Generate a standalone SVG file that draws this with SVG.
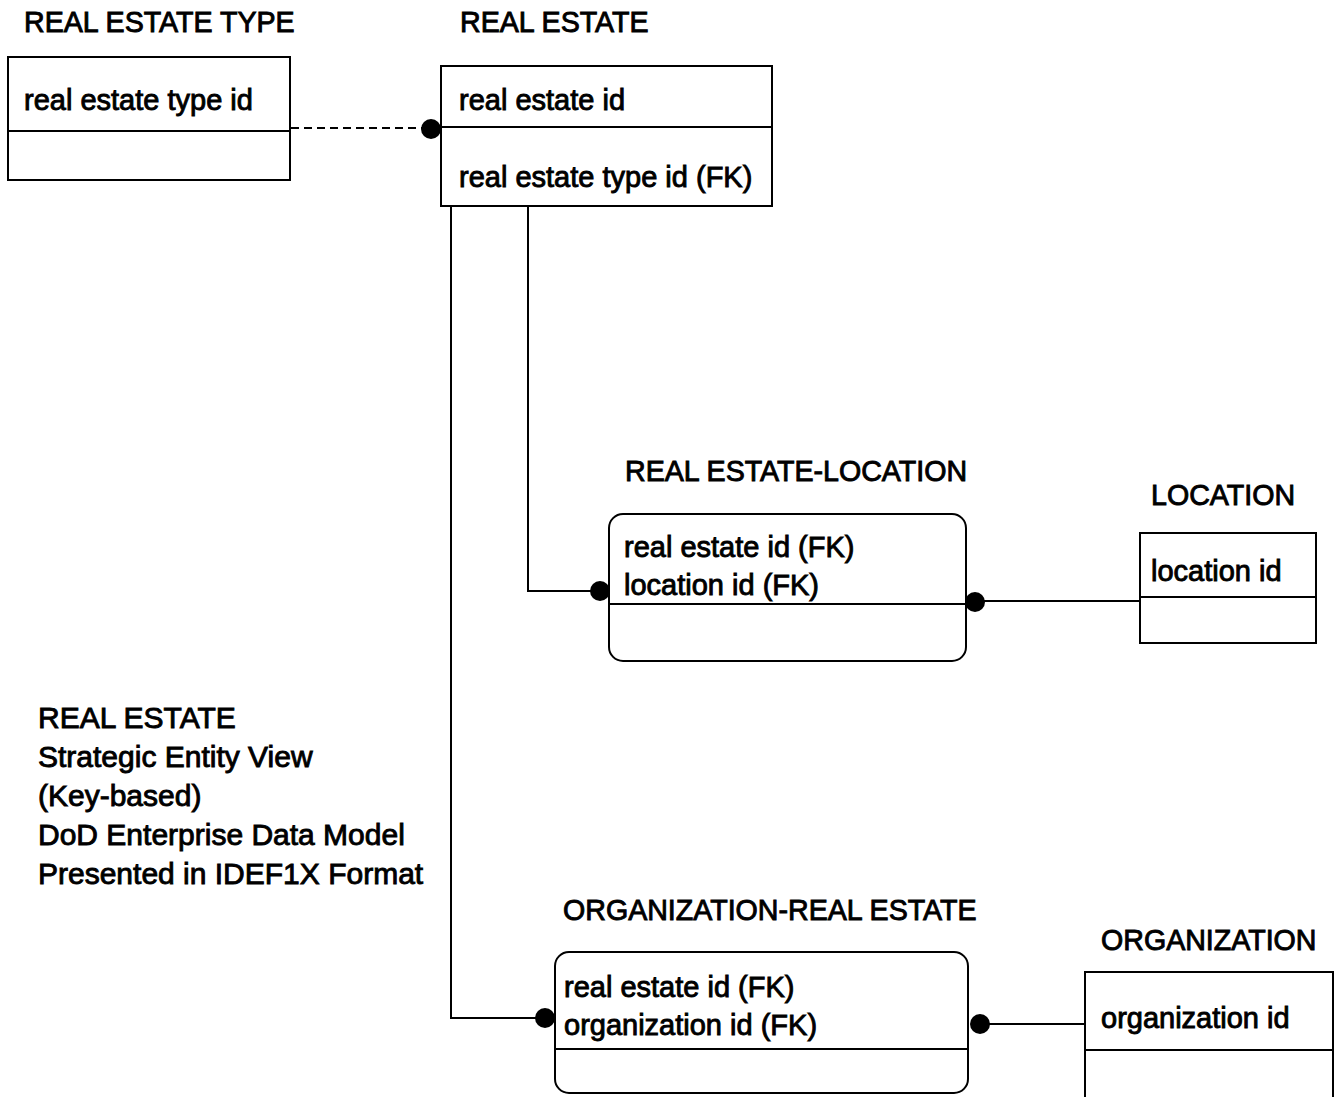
<svg xmlns="http://www.w3.org/2000/svg" width="1334" height="1097" viewBox="0 0 1334 1097">
<style>
text{font-family:"Liberation Sans",Arial,sans-serif;font-size:28.6px;fill:#000;stroke:#000;stroke-width:0.9}
.attr{font-size:29px}
.cap{font-size:30px}
.box{fill:none;stroke:#000;stroke-width:2}
.line{fill:none;stroke:#000;stroke-width:2}
.dash{stroke-dasharray:8 5}
.dot{fill:#000}
</style>
<rect width="1334" height="1097" fill="#fff"/>
<g id="connectors">
<line class="line dash" x1="291" y1="128" x2="425" y2="128"/>
<circle class="dot" cx="431" cy="129" r="10"/>
<polyline class="line" points="528,206 528,591 595,591"/>
<circle class="dot" cx="600" cy="591" r="10"/>
<polyline class="line" points="451,206 451,1018 540,1018"/>
<circle class="dot" cx="545" cy="1018" r="10"/>
<line class="line" x1="980" y1="601" x2="1140" y2="601"/>
<circle class="dot" cx="975" cy="602" r="10"/>
<line class="line" x1="985" y1="1024" x2="1085" y2="1024"/>
<circle class="dot" cx="980" cy="1024" r="10"/>
</g>
<g id="real-estate-type">
<text x="24" y="32">REAL ESTATE TYPE</text>
<rect class="box" x="8" y="57" width="282" height="123"/>
<line class="line" x1="8" y1="131" x2="290" y2="131"/>
<text class="attr" x="24" y="110">real estate type id</text>
</g>
<g id="real-estate">
<text x="460" y="32">REAL ESTATE</text>
<rect class="box" x="441" y="66" width="331" height="140"/>
<line class="line" x1="441" y1="127" x2="772" y2="127"/>
<text class="attr" x="459" y="110">real estate id</text>
<text class="attr" x="459" y="187">real estate type id (FK)</text>
</g>
<g id="real-estate-location">
<text x="625" y="481">REAL ESTATE-LOCATION</text>
<rect class="box" x="609" y="514" width="357" height="147" rx="14" ry="14"/>
<line class="line" x1="609" y1="604" x2="966" y2="604"/>
<text class="attr" x="624" y="557">real estate id (FK)</text>
<text class="attr" x="624" y="595">location id (FK)</text>
</g>
<g id="location">
<text x="1151" y="505">LOCATION</text>
<rect class="box" x="1140" y="533" width="176" height="110"/>
<line class="line" x1="1140" y1="597" x2="1316" y2="597"/>
<text class="attr" x="1151" y="581">location id</text>
</g>
<g id="organization-real-estate">
<text x="563" y="920">ORGANIZATION-REAL ESTATE</text>
<rect class="box" x="555" y="952" width="413" height="141" rx="14" ry="14"/>
<line class="line" x1="555" y1="1049" x2="968" y2="1049"/>
<text class="attr" x="564" y="997">real estate id (FK)</text>
<text class="attr" x="564" y="1035">organization id (FK)</text>
</g>
<g id="organization">
<text x="1101" y="950">ORGANIZATION</text>
<polyline class="line" points="1085,1097 1085,972 1333,972 1333,1097"/>
<line class="line" x1="1085" y1="1050" x2="1333" y2="1050"/>
<text class="attr" x="1101" y="1028">organization id</text>
</g>
<g id="caption">
<text class="cap" x="38" y="728">REAL ESTATE</text>
<text class="cap" x="38" y="767">Strategic Entity View</text>
<text class="cap" x="38" y="806">(Key-based)</text>
<text class="cap" x="38" y="845">DoD Enterprise Data Model</text>
<text class="cap" x="38" y="884">Presented in IDEF1X Format</text>
</g>
</svg>
